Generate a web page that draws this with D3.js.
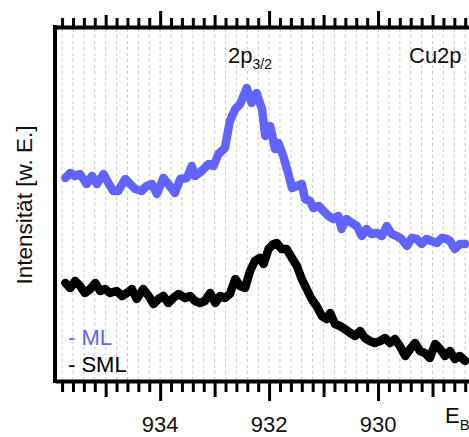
<!DOCTYPE html>
<html><head><meta charset="utf-8">
<script src="https://cdn.jsdelivr.net/npm/d3@7"></script>
<style>html,body{margin:0;padding:0;background:#fff;}svg{display:block;font-family:"Liberation Sans",Arial,sans-serif;}</style>
</head><body>
<svg id="c" width="469" height="437"></svg>
<script>
// Binding energy (eV) and intensity (arb. units)
const mlEnergy = [935.74,935.65,935.56,935.47,935.35,935.25,935.16,935.04,934.95,934.86,934.77,934.64,934.55,934.46,934.34,934.25,934.15,934.06,933.94,933.85,933.73,933.63,933.51,933.42,933.36,933.24,933.11,933.02,932.93,932.81,932.72,932.62,932.53,932.41,932.32,932.23,932.13,932.07,931.98,931.89,931.83,931.74,931.65,931.58,931.49,931.40,931.34,931.25,931.19,931.09,931.00,930.91,930.82,930.73,930.67,930.58,930.48,930.39,930.30,930.21,930.12,930.02,929.93,929.84,929.75,929.66,929.57,929.47,929.38,929.29,929.20,929.11,929.02,928.92,928.83,928.74,928.68,928.59,928.50,928.40];
const mlIntensity = [203,208,205,207,197,205,197,207,198,190,190,202,197,192,190,195,197,187,203,197,188,202,203,215,205,210,217,215,227,233,260,272,277,293,278,288,272,245,255,232,238,225,208,193,195,197,182,180,173,175,170,165,162,165,152,162,158,155,145,152,147,148,145,155,147,145,142,135,143,142,137,142,140,138,143,142,140,132,137,137];
const smlEnergy = [935.74,935.65,935.56,935.47,935.38,935.28,935.19,935.10,935.01,934.92,934.80,934.70,934.61,934.52,934.43,934.31,934.21,934.12,934.03,933.94,933.85,933.76,933.66,933.54,933.45,933.36,933.27,933.18,933.08,932.99,932.90,932.81,932.72,932.62,932.53,932.44,932.35,932.26,932.17,932.10,932.01,931.92,931.86,931.77,931.68,931.58,931.49,931.40,931.31,931.22,931.13,931.03,930.94,930.88,930.79,930.70,930.61,930.51,930.42,930.33,930.24,930.15,930.06,929.96,929.87,929.78,929.69,929.60,929.50,929.41,929.32,929.23,929.14,929.05,928.95,928.86,928.77,928.68,928.59,928.50,928.40];
const smlIntensity = [98,93,100,95,88,92,98,90,92,88,90,85,88,92,82,92,85,77,82,85,78,83,87,83,85,80,78,80,88,78,85,83,87,102,95,93,110,120,123,117,132,137,138,132,132,123,115,102,92,82,75,65,62,68,57,55,52,48,45,50,43,40,38,40,43,38,42,35,25,32,38,30,28,23,37,32,25,30,22,25,20];
const seriesNames = ["ML", "SML"];
const labeledTicks = [934, 932, 930];
const xDomain = [935.93, 928];
const yDomain = [0, 352];

const svg = d3.select("#c");
const x = d3.scaleLinear().domain(xDomain).range([55, 487]);
const y = d3.scaleLinear().domain(yDomain).range([381, 29]);
const blue = "#6262ff";

const allTicks = d3.range(0, 39).map(i => Math.round((935.8 - i * 0.2) * 10) / 10);
const kind = v => (Math.abs(v % 2) < 1e-6 ? 2 : (Math.abs(v % 1) < 1e-6 ? 1 : 0));

// grid
svg.append("g").selectAll("line").data(allTicks).join("line")
  .attr("x1", d => x(d)).attr("x2", d => x(d))
  .attr("y1", 29).attr("y2", 380)
  .attr("stroke", "#c8c8c8").attr("stroke-width", 1).attr("stroke-dasharray", "3,3");

// bottom axis
const gb = svg.append("g").attr("transform", "translate(0,381)")
  .call(d3.axisBottom(x).tickValues(allTicks).tickSizeOuter(0).tickFormat(""));
gb.select(".domain").attr("stroke-width", 4).attr("stroke", "#000");
gb.selectAll(".tick line").attr("stroke-width", 3).attr("stroke", "#000")
  .attr("y2", d => [11, 16, 20][kind(d)]);

// top axis
const gt = svg.append("g").attr("transform", "translate(0,27)")
  .call(d3.axisTop(x).tickValues(allTicks).tickSizeOuter(0).tickFormat(""));
gt.select(".domain").attr("stroke-width", 4).attr("stroke", "#000");
gt.selectAll(".tick line").attr("stroke-width", 3).attr("stroke", "#000")
  .attr("y2", d => -[9, 12, 16][kind(d)]);

// left frame
svg.append("line").attr("x1", x(xDomain[0])).attr("x2", x(xDomain[0]))
  .attr("y1", 25).attr("y2", 383).attr("stroke", "#000").attr("stroke-width", 4);

// tick labels
svg.append("g").selectAll("text").data(labeledTicks).join("text")
  .attr("x", d => x(d)).attr("y", 432).attr("text-anchor", "middle")
  .attr("font-size", 22).attr("fill", "#111").text(d => d);

// lines
const line = (E, I) => d3.line().x((d, i) => x(E[i])).y((d, i) => y(I[i]))(E);
svg.append("path").attr("d", line(mlEnergy, mlIntensity))
  .attr("fill", "none").attr("stroke", blue).attr("stroke-width", 8.5)
  .attr("stroke-linejoin", "round").attr("stroke-linecap", "round");
svg.append("path").attr("d", line(smlEnergy, smlIntensity))
  .attr("fill", "none").attr("stroke", "#000").attr("stroke-width", 8.5)
  .attr("stroke-linejoin", "round").attr("stroke-linecap", "round");

// annotations
const t1 = svg.append("text").attr("x", 228).attr("y", 63).attr("font-size", 22).attr("fill", "#111");
t1.append("tspan").text("2p");
t1.append("tspan").attr("font-size", 14).attr("dy", 6).text("3/2");
svg.append("text").attr("x", 409).attr("y", 63).attr("font-size", 22).attr("fill", "#111").text("Cu2p");

// legend
svg.append("text").attr("x", 68).attr("y", 345).attr("font-size", 22).attr("fill", blue).text("- " + seriesNames[0]);
svg.append("text").attr("x", 68).attr("y", 372).attr("font-size", 22).attr("fill", "#000").text("- " + seriesNames[1]);

// axis titles
const eb = svg.append("text").attr("x", 445).attr("y", 423).attr("font-size", 22).attr("fill", "#111");
eb.append("tspan").text("E");
eb.append("tspan").attr("font-size", 15).attr("dy", 7).text("B");
svg.append("text").attr("transform", "translate(32,205) rotate(-90)")
  .attr("text-anchor", "middle").attr("font-size", 22.5).attr("fill", "#111")
  .text("Intensität [w. E.]");
</script>
</body></html>
